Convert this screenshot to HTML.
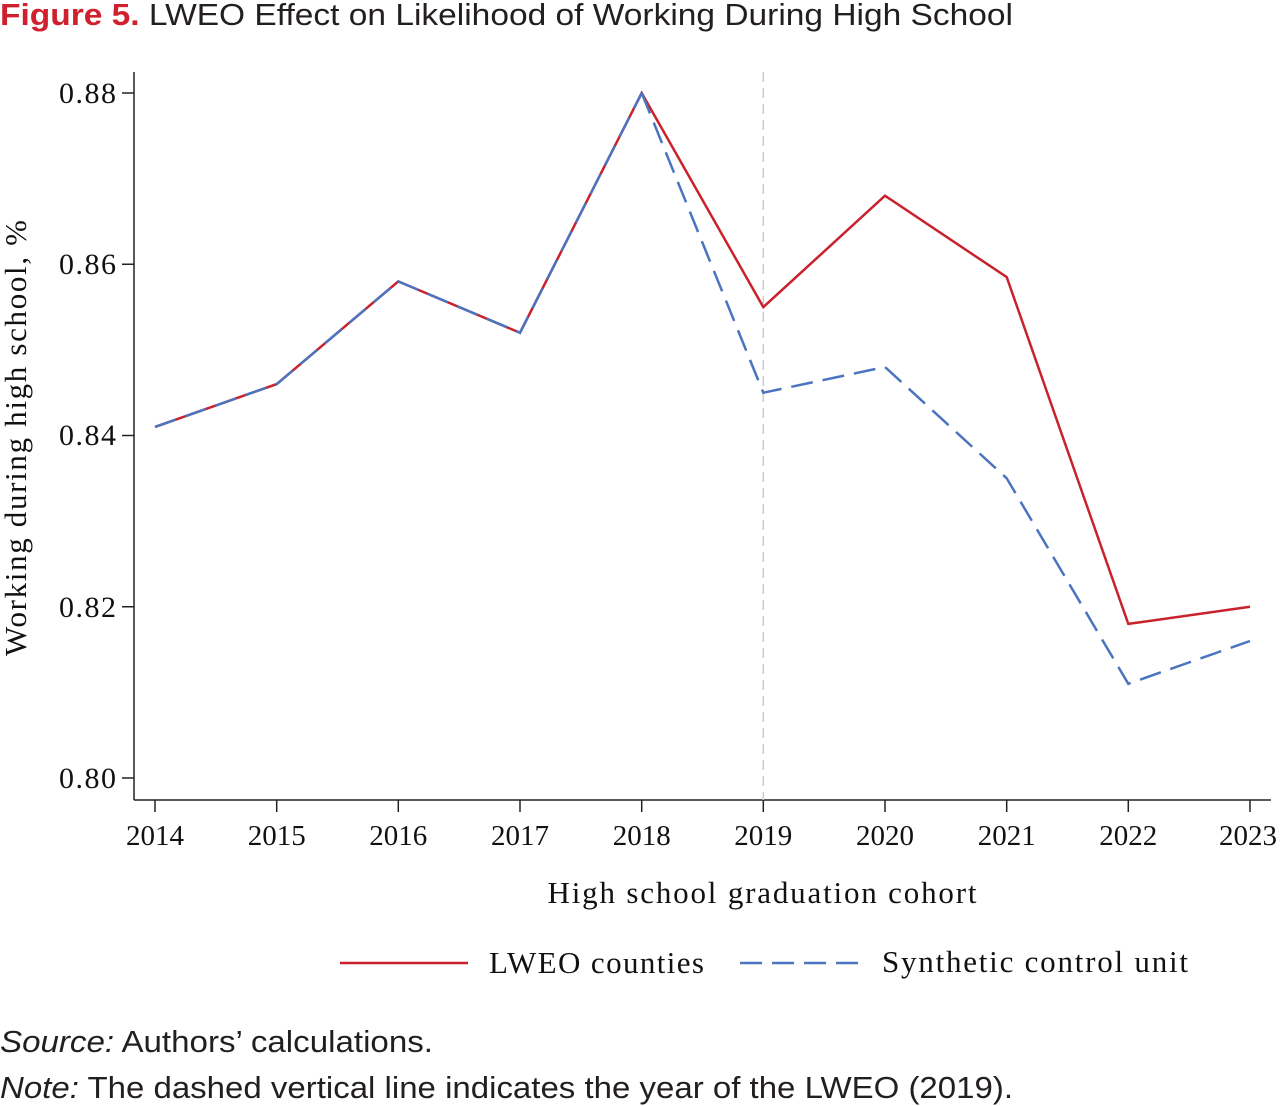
<!DOCTYPE html>
<html><head><meta charset="utf-8"><style>
body{margin:0;background:#fff;width:1280px;height:1106px;overflow:hidden}
svg{display:block}
</style></head><body>
<svg width="1280" height="1106" xmlns="http://www.w3.org/2000/svg">
<text x="0" y="25" font-family="Liberation Sans, sans-serif" font-size="31" fill="#231f20" textLength="1013" lengthAdjust="spacingAndGlyphs"><tspan fill="#d0202e" font-weight="bold">Figure 5.</tspan> LWEO Effect on Likelihood of Working During High School</text>
<g stroke="#222" stroke-width="1.5" fill="none">
<line x1="134" y1="72" x2="134" y2="800"/>
<line x1="134" y1="800" x2="1271" y2="800"/>
<line x1="122" y1="93" x2="134" y2="93"/><line x1="122" y1="264.25" x2="134" y2="264.25"/><line x1="122" y1="435.5" x2="134" y2="435.5"/><line x1="122" y1="606.75" x2="134" y2="606.75"/><line x1="122" y1="778" x2="134" y2="778"/>
<line x1="155" y1="800" x2="155" y2="812"/><line x1="276.7" y1="800" x2="276.7" y2="812"/><line x1="398.3" y1="800" x2="398.3" y2="812"/><line x1="520" y1="800" x2="520" y2="812"/><line x1="641.7" y1="800" x2="641.7" y2="812"/><line x1="763.3" y1="800" x2="763.3" y2="812"/><line x1="885" y1="800" x2="885" y2="812"/><line x1="1006.7" y1="800" x2="1006.7" y2="812"/><line x1="1128.3" y1="800" x2="1128.3" y2="812"/><line x1="1250" y1="800" x2="1250" y2="812"/>
</g>
<g font-family="Liberation Serif, serif" font-size="30" fill="#111" text-anchor="end">
<text x="116" y="103" textLength="57">0.88</text><text x="116" y="274" textLength="57">0.86</text><text x="116" y="445" textLength="57">0.84</text><text x="116" y="617" textLength="57">0.82</text><text x="116" y="788" textLength="57">0.80</text>
</g>
<g font-family="Liberation Serif, serif" font-size="29" fill="#111" text-anchor="middle">
<text x="155" y="845">2014</text><text x="276.7" y="845">2015</text><text x="398.3" y="845">2016</text><text x="520" y="845">2017</text><text x="641.7" y="845">2018</text><text x="763.3" y="845">2019</text><text x="885" y="845">2020</text><text x="1006.7" y="845">2021</text><text x="1128.3" y="845">2022</text><text x="1248" y="845">2023</text>
<text x="762" y="903" font-size="31" textLength="429">High school graduation cohort</text>
<text transform="translate(26,438) rotate(-90)" font-size="31" textLength="436">Working during high school, %</text>
</g>
<line x1="763.3" y1="72" x2="763.3" y2="800" stroke="#ccc" stroke-width="1.5" stroke-dasharray="10,6"/>
<polyline fill="none" stroke="#c8222c" stroke-width="2.5" points="155,426.9 276.7,384.1 398.3,281.4 520,332.75 641.7,93 763.3,307.1 885,195.75 1006.7,277.1 1128.3,623.9 1250,606.75"/>
<polyline fill="none" stroke="#4a74c0" stroke-width="2.5" stroke-dasharray="22,10" points="155,426.9 276.7,384.1 398.3,281.4 520,332.75 641.7,93"/>
<polyline fill="none" stroke="#4a74c0" stroke-width="2.5" stroke-dasharray="22,10" points="641.7,93 763.3,392.7 885,367 1006.7,478.3 1128.3,683.8 1250,641"/>
<line x1="340" y1="963" x2="468" y2="963" stroke="#c8222c" stroke-width="2.5"/>
<line x1="740" y1="963" x2="868" y2="963" stroke="#4a74c0" stroke-width="2.5" stroke-dasharray="22,10"/>
<g font-family="Liberation Serif, serif" font-size="31" fill="#111">
<text x="489" y="973" textLength="215">LWEO counties</text><text x="882" y="972" textLength="306">Synthetic control unit</text>
</g>
<g font-family="Liberation Sans, sans-serif" font-size="31" fill="#231f20">
<text x="0" y="1052" textLength="433" lengthAdjust="spacingAndGlyphs"><tspan font-style="italic">Source:</tspan> Authors’ calculations.</text>
<text x="0" y="1098" textLength="1013" lengthAdjust="spacingAndGlyphs"><tspan font-style="italic">Note:</tspan> The dashed vertical line indicates the year of the LWEO (2019).</text>
</g>
</svg>
</body></html>
